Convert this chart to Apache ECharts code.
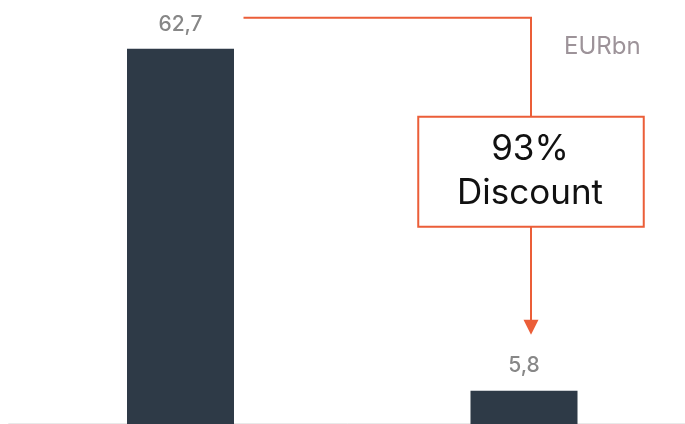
<!DOCTYPE html>
<html>
<head>
<meta charset="utf-8">
<script src="https://cdn.jsdelivr.net/npm/echarts@6/dist/echarts.min.js"></script>
<style>html,body{margin:0;padding:0;background:#fff}#c{width:685px;height:424px}</style>
</head>
<body>
<div id="c"></div>
<script>
const categories = ['Before', 'After'];
const values = [62.7, 5.8];
const unitLabel = 'EURbn';
const discountText = '93%\nDiscount';

const ORANGE = '#eb5e38';
const FONT = 'Inter, Roboto, sans-serif';
const chart = echarts.init(document.getElementById('c'), null, {renderer: 'canvas'});
chart.setOption({
  animation: false,
  grid: {left: 8.75, width: 687, top: 48.7, bottom: -1.5, containLabel: false, outerBoundsMode: 'none'},
  xAxis: {
    type: 'category', data: categories, offset: -2.5,
    axisLine: {show: true, lineStyle: {color: '#e9e9e9', width: 1}},
    axisTick: {show: false}, axisLabel: {show: false}
  },
  yAxis: {type: 'value', min: 0, max: 62.7, show: false, splitLine: {show: false}},
  series: [{
    type: 'bar', data: values, barWidth: 107, z: 3,
    itemStyle: {color: '#2e3a47'},
    label: {
      show: true, position: 'top', distance: 14,
      fontFamily: FONT, fontSize: 21, fontWeight: 500, color: '#878787',
      formatter: p => String(p.value).replace('.', ',')
    }
  }]
});

const p1 = chart.convertToPixel({seriesIndex: 0}, [0, values[0]]);
const p2 = chart.convertToPixel({seriesIndex: 0}, [1, values[1]]);
const ax = p2[0] + 7;
const topY = p1[1] - 31;
const startX = p1[0] + 63;
const boxW = 225.5, boxH = 110;
const boxTop = topY + 99;
const tipY = p2[1] - 56;

chart.setOption({
  graphic: [
    {type: 'polyline', shape: {points: [[startX, topY], [ax, topY], [ax, boxTop]]},
     style: {stroke: ORANGE, lineWidth: 2, fill: null}, z: 10},
    {type: 'rect', shape: {x: ax - boxW / 2, y: boxTop, width: boxW, height: boxH},
     style: {stroke: ORANGE, lineWidth: 2, fill: '#fff'}, z: 10},
    {type: 'text', x: ax - 1, y: boxTop + boxH / 2,
     style: {text: discountText, fontFamily: FONT, fontSize: 35, lineHeight: 44,
             fill: '#111', align: 'center', verticalAlign: 'middle'}, z: 11},
    {type: 'line', shape: {x1: ax, y1: boxTop + boxH, x2: ax, y2: tipY - 14},
     style: {stroke: ORANGE, lineWidth: 2}, z: 10},
    {type: 'polygon', shape: {points: [[ax - 7.5, tipY - 15], [ax + 7.5, tipY - 15], [ax, tipY]]},
     style: {fill: ORANGE}, z: 10},
    {type: 'text', x: 564, y: 35,
     style: {text: unitLabel, fontFamily: FONT, fontSize: 24, fill: '#9d9399'}, z: 10}
  ]
});
</script>
</body>
</html>
